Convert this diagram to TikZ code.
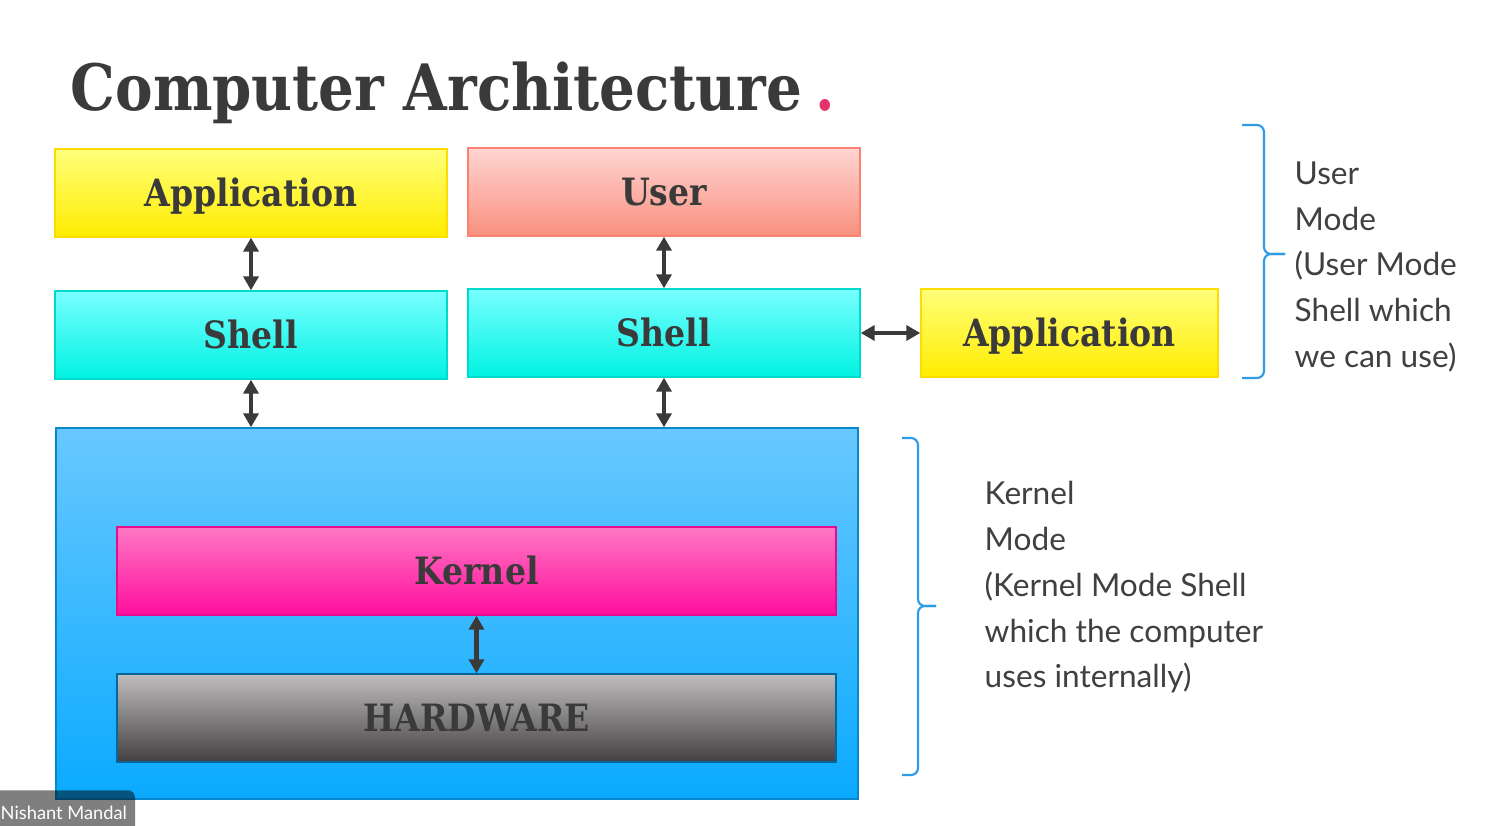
\documentclass[tikz,border=0pt]{standalone}
\usepackage{fontspec}
\setmainfont{Lato}
\newfontfamily\slab[FakeStretch=0.88]{DejaVu Serif}
\usetikzlibrary{arrows.meta}

\definecolor{ink}{HTML}{3A3A3A}
\definecolor{note}{HTML}{404040}
\definecolor{bracecol}{HTML}{2E9BE6}
\definecolor{dotcol}{HTML}{E4336B}
\definecolor{yelTop}{HTML}{FFFF7A}
\definecolor{yelBot}{HTML}{FFEC00}
\definecolor{redTop}{HTML}{FFD5D3}
\definecolor{redBot}{HTML}{F9907E}
\definecolor{cyaTop}{HTML}{78FFFF}
\definecolor{cyaBot}{HTML}{00F2E2}
\definecolor{bluTop}{HTML}{68C8FF}
\definecolor{bluBot}{HTML}{0AAAFF}
\definecolor{magTop}{HTML}{FF78C4}
\definecolor{magBot}{HTML}{FF0E9E}
\definecolor{gryTop}{HTML}{BFBDBD}
\definecolor{gryBot}{HTML}{444042}

\begin{document}
\begin{tikzpicture}[every node/.style={text=ink},
	box/.style={line width=0.4pt, minimum height=0.88cm, inner sep=0pt, text=ink,
		text height=7.6pt, text depth=0pt, font=\slab\bfseries\fontsize{10.7}{12}\selectfont},
	yelbox/.style={box, draw=yelBot!85!orange, top color=yelTop, bottom color=yelBot},
	redbox/.style={box, draw=redBot!90!red, top color=redTop, bottom color=redBot},
	cyabox/.style={box, draw=cyaBot!90!black, top color=cyaTop, bottom color=cyaBot},
	dbl/.style={ink, line width=1.15pt, {Triangle[length=1.4mm,width=1.5mm]}-{Triangle[length=1.4mm,width=1.5mm]}},
	brc/.style={draw=bracecol, line width=0.6pt, rounded corners=0.07cm},
	modetext/.style={text=note, align=left, anchor=north west, inner sep=0pt, font=\fontsize{9}{13}\selectfont}]
	\clip (0,0) rectangle (14.88,-8.26);
	\fill[white] (0,0) rectangle (14.88,-8.26);

	% title
	\node[anchor=base west, inner sep=0pt, font=\slab\bfseries\fontsize{18.2}{20}\selectfont] (title) at (0.70,-1.11) {Computer Architecture};
	\node[anchor=base west, inner sep=0pt, text=dotcol, font=\slab\bfseries\fontsize{18.2}{20}\selectfont] (dot) at ([xshift=0.12cm]title.base east) {.};

	% user side
	\node[yelbox, minimum width=3.92cm] (app1) at (2.51,-1.93) {Application};
	\node[redbox, minimum width=3.92cm] (user) at (6.64,-1.92) {User};
	\node[cyabox, minimum width=3.92cm] (shellA) at (2.51,-3.35) {Shell};
	\node[cyabox, minimum width=3.92cm] (shellB) at (6.64,-3.33) {Shell};
	\node[yelbox, minimum width=2.97cm] (app2) at (10.695,-3.33) {Application};

	% kernel side
	\node[box, draw=bluBot!80!black, top color=bluTop, bottom color=bluBot, minimum width=8.02cm, minimum height=3.71cm] (kbox) at (4.57,-6.135) {};
	\node[box, draw=magBot!90!black, top color=magTop, bottom color=magBot, minimum width=7.19cm] (kernel) at (4.765,-5.71) {Kernel};
	\node[box, draw=bluBot!60!black, top color=gryTop, bottom color=gryBot, minimum width=7.19cm] (hw) at (4.765,-7.18) {HARDWARE};

	\draw[dbl] (app1) -- (shellA);
	\draw[dbl] (user) -- (shellB);
	\draw[dbl] (shellB) -- (app2);
	\draw[dbl] (shellA) -- (shellA.south |- kbox.north);
	\draw[dbl] (shellB) -- (shellB.south |- kbox.north);
	\draw[dbl] (kernel) -- (hw);

	% modes
	\draw[brc] (12.42,-1.25) -- (12.64,-1.25) -- (12.64,-2.54) -- (12.85,-2.54);
	\draw[brc] (12.42,-3.78) -- (12.64,-3.78) -- (12.64,-2.54) -- (12.85,-2.54);
	\node[modetext] (umode) at (12.94,-1.61) {User\\Mode\\(User Mode\\Shell which\\we can use)};
	\draw[brc] (9.02,-4.38) -- (9.18,-4.38) -- (9.18,-6.06) -- (9.36,-6.06);
	\draw[brc] (9.02,-7.75) -- (9.18,-7.75) -- (9.18,-6.06) -- (9.36,-6.06);
	\node[modetext] (kmode) at (9.84,-4.81) {Kernel\\Mode\\(Kernel Mode Shell\\which the computer\\uses internally)};

	\node[anchor=south west, fill=black, fill opacity=0.5, text=white, text opacity=1, rounded corners=0.07cm,
		minimum width=1.42cm, minimum height=0.45cm, inner sep=0pt, font=\fontsize{5.2}{6}\selectfont] (tag) at (-0.10,-8.36) {\hspace*{0.1cm}Nishant Mandal\hspace*{0.08cm}};
\end{tikzpicture}
\end{document}
